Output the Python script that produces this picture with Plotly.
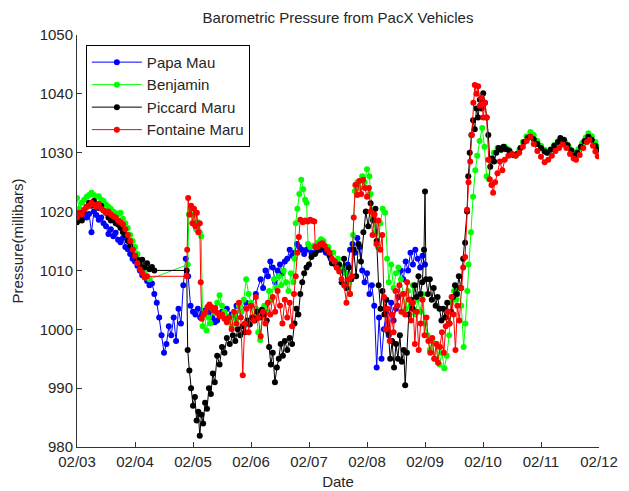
import pandas as pd
import plotly.graph_objects as go

START = pd.Timestamp("2011-02-03")

# Hours since 02/03 00:00 and pressure readings (mbar) for each vehicle
papa_hours = [0, 1, 2, 3, 4, 5, 6, 7, 8, 9, 10, 11, 12, 13, 14, 15, 16, 17, 18, 19,
              20, 21, 22, 23, 24, 25, 26, 27, 28, 29, 30, 31, 32, 33, 34, 35, 36, 37, 38, 39,
              40, 41, 42, 43, 44, 45, 46, 47, 48, 49, 50, 51, 52, 53, 54, 55, 56, 57, 58, 59,
              60, 62, 64, 66, 68, 70, 72, 74, 76, 77, 78, 79, 80, 81, 82, 83, 84, 85, 86, 87,
              88, 89, 90, 91, 92, 93, 94, 95, 96, 97, 99, 101, 103, 105, 107, 109, 111, 112, 113, 114,
              115, 116, 117, 118, 119, 120, 121, 122, 123, 124, 125, 126, 127, 128, 129, 130, 131, 132, 133, 134,
              135, 136, 137, 138, 139, 140, 141, 142, 143, 144]
papa_mb = [1018.5, 1019.2, 1018.8, 1019.5, 1019.0, 1019.6, 1016.5, 1020.0, 1019.4, 1018.6,
           1019.0, 1018.0, 1017.5, 1016.2, 1017.0, 1015.8, 1016.4, 1015.2, 1014.8, 1015.5,
           1014.0, 1013.6, 1012.8, 1012.0, 1011.5, 1010.8, 1010.0, 1009.2, 1009.0, 1008.2,
           1007.5, 1007.8, 1006.0, 1004.5, 1002.0, 999.0, 996.0, 997.5, 1000.5, 999.0,
           1002.0, 998.0, 1003.5, 1001.0, 1007.5, 1012.0, 1009.0, 1004.0, 1003.0, 1002.5,
           1003.5, 1002.0, 1002.8, 1003.2, 1002.5, 1003.0, 1002.0, 1001.2, 1001.5, 1002.5,
           1003.0, 1003.5, 1002.5, 1004.0, 1003.0, 1004.5, 1004.0, 1006.0, 1008.5, 1007.0,
           1010.0, 1009.0, 1011.5, 1010.5, 1008.0, 1010.0, 1011.0, 1009.5, 1011.5, 1012.0,
           1013.5, 1012.5, 1013.0, 1014.5, 1014.0, 1013.5, 1012.8, 1013.5, 1014.0, 1013.0,
           1013.2, 1013.5, 1013.0, 1012.0, 1011.0, 1010.0, 1009.5, 1011.0, 1013.5, 1014.5,
           1013.0, 1015.5, 1014.0, 1010.0, 1008.0, 1009.5, 1006.0, 1007.5, 1004.0, 993.5,
           1002.0, 995.0, 1000.0, 1003.0, 999.0, 1004.5, 1001.5, 1003.5, 1005.5, 1010.0,
           1008.5, 1011.5, 1010.0, 1013.0, 1011.0, 1013.5, 1012.0, 1010.5, 1012.5, 1011.0]

benjamin_hours = [0, 1, 2, 3, 4, 5, 6, 7, 8, 9, 10, 11, 12, 13, 14, 15, 16, 17, 18, 19,
                  20, 21, 22, 23, 24, 25, 26, 27, 28, 29, 30, 45.8, 46.3, 47.0, 47.8, 48.5, 49.3, 50.0, 50.8, 51.4,
                  52.0, 52.8, 53.6, 54.4, 55.2, 56.0, 57.0, 58.0, 59.0, 60.0, 61.0, 62.0, 63.0, 64.0, 65.0, 66.0, 67.0, 68.0, 69.0, 70.0,
                  71.0, 72.0, 73.0, 74.0, 75.0, 75.8, 76.5, 77.5, 78.5, 79.5, 80.5, 81.5, 82.5, 83.5, 84.5, 85.5, 86.5, 87.5, 88.5, 89.5,
                  90.0, 90.5, 91.2, 92.0, 92.8, 93.6, 94.4, 95.0, 95.6, 96.5, 98, 100, 101, 102, 104, 106, 108, 110, 111, 112,
                  113, 114.2, 115, 116, 117, 118, 119, 120, 121, 121.5, 122.5, 123.5, 124.5, 125.5, 126.5, 127.5, 128.3, 129, 130, 131,
                  132, 133, 134, 135, 136, 137, 138, 139, 140, 141, 142, 143, 144, 145, 146, 147, 148, 149, 150, 151,
                  152, 153, 154, 155, 156, 157, 158, 159, 160, 160.7, 161.5, 162, 163, 163.9, 164.8, 165.6, 166.6, 167.7, 168.6, 169.5,
                  170.5, 171.5, 172.5, 174.0, 175.5, 177.0, 178.5, 180.0, 181.5, 183.0, 184.5, 186.0, 187.6, 189.0, 190.5, 192.0, 193.5, 194.6, 196.0, 197.5,
                  199.0, 200.8, 202.0, 203.5, 205.0, 206.2, 207.5, 209.0, 210.5, 211.6, 213.0, 214.5, 215.5]
benjamin_mb = [1022.3, 1020.5, 1021.5, 1022.0, 1022.5, 1022.8, 1023.2, 1022.8, 1022.5, 1022.6,
               1022.0, 1021.8, 1021.2, 1020.8, 1020.5, 1020.0, 1019.7, 1019.5, 1019.8, 1018.8,
               1018.0, 1017.2, 1016.0, 1015.0, 1014.0, 1012.8, 1011.8, 1010.5, 1009.5, 1008.8,
               1008.5, 1011.0, 1019.5, 1020.5, 1018.0, 1019.5, 1017.0, 1018.2, 1016.5, 1015.8,
               1000.5, 1002.5, 999.8, 1002.0, 1001.0, 1003.5, 1002.8, 1004.5, 1005.8, 1004.0,
               1003.0, 1002.2, 1001.5, 1000.5, 1002.5, 1001.8, 1004.0, 1003.0, 1005.0, 1008.5,
               1006.0, 1004.5, 1002.0, 1003.5, 999.5, 998.2, 1002.0, 1004.0, 1003.0, 1006.5,
               1005.0, 1008.5, 1007.0, 1009.0, 1007.5, 1010.0, 1008.0, 1006.5, 1009.5, 1008.0,
               1012.0, 1018.0, 1020.5, 1023.0, 1025.4, 1023.8, 1022.0, 1021.5, 1014.5, 1014.0,
               1014.2, 1014.8, 1015.3, 1015.0, 1014.0, 1013.0, 1012.0, 1010.5, 1009.5, 1008.0,
               1006.0, 1016.0, 1023.5, 1025.0, 1024.0, 1026.0, 1025.0, 1027.2, 1026.0, 1023.0,
               1019.0, 1016.5, 1014.0, 1018.0, 1020.5, 1019.8, 1012.0, 1008.0, 1011.0, 1007.0,
               1009.5, 1010.5, 1008.5, 1006.0, 1003.5, 1006.5, 1004.0, 1007.5, 1002.5, 1005.0,
               1003.0, 1006.0, 1001.0, 999.0, 996.5, 998.0, 995.0, 997.5, 994.0, 996.0,
               993.4, 995.5, 999.0, 1004.5, 1006.5, 1005.0, 1007.0, 1004.0, 997.0, 1001.0,
               1006.5, 1011.0, 1016.5, 1022.5, 1027.0, 1029.5, 1032.0, 1034.2, 1031.0, 1026.0,
               1025.5, 1029.0, 1030.0, 1030.8, 1030.5, 1031.0, 1030.6, 1029.8, 1029.5, 1030.5,
               1031.8, 1032.8, 1033.5, 1033.0, 1032.0, 1031.2, 1030.5, 1030.0, 1030.6, 1031.3,
               1031.9, 1032.2, 1031.8, 1031.0, 1030.3, 1030.0, 1030.6, 1031.6, 1032.6, 1033.3,
               1032.8, 1031.8, 1031.0]

piccard_hours = [0, 1, 2, 3, 4, 5, 6, 7, 8, 9, 10, 11, 12, 13, 14, 15, 16, 17, 18, 19,
                 20, 21, 22, 23, 24, 25, 26, 27, 28, 29, 30, 31, 32, 45.4, 45.8, 46.5, 47.2, 48.0, 48.8, 49.5,
                 50.2, 50.8, 51.5, 52.2, 53.0, 53.8, 54.6, 55.4, 56.2, 57.0, 58.0, 59.0, 60.0, 61.0, 62.0, 63.2, 64.5, 65.5, 66.5, 67.5,
                 68.5, 69.5, 70.5, 71.5, 72.5, 73.5, 74.5, 75.5, 76.5, 77.5, 78.5, 79.5, 80.2, 81.0, 81.9, 82.7, 83.5, 84.3, 85.2, 86.0,
                 87.0, 88.0, 89.0, 90.0, 90.8, 91.6, 92.4, 93.2, 94.0, 95.0, 96.0, 97.0, 98.5, 100.0, 101.5, 103.0, 104.5, 105.5, 106.5, 107.5,
                 108.5, 109.5, 110.5, 111.5, 112.5, 113.5, 114.5, 115.5, 116.5, 117.5, 118.5, 119.5, 120.5, 121.5, 122.5, 123.5, 124.0, 124.8, 125.6, 126.4,
                 127.2, 128.0, 128.8, 129.6, 130.4, 131.2, 132.0, 132.8, 133.6, 134.4, 135.2, 135.8, 136.5, 137.3, 138.1, 138.9, 139.7, 140.5, 141.3, 142.1,
                 142.9, 143.6, 144.0, 144.4, 145.2, 146.0, 146.8, 147.6, 148.4, 149.2, 150.0, 150.8, 151.6, 152.4, 153.2, 154.0, 154.8, 155.6, 156.4, 157.2,
                 158.0, 158.8, 159.8, 160.6, 161.4, 161.9, 162.5, 163.2, 163.9, 164.6, 165.3, 166.0, 166.7, 167.4, 168.1, 168.8, 169.5, 170.2, 171.0, 171.8,
                 172.6, 173.5, 174.5, 175.5, 176.5, 177.5, 179.0, 180.5, 182.0, 183.5, 185.0, 186.5, 187.6, 189.0, 190.5, 192.0, 193.5, 194.6, 196.0, 197.5,
                 199.0, 200.0, 201.5, 203.0, 204.5, 205.8, 207.0, 208.5, 210.0, 211.6, 213.0, 214.5, 215.5]
piccard_mb = [1018.2, 1019.0, 1018.5, 1020.2, 1020.8, 1021.5, 1021.0, 1021.8, 1021.2, 1020.6,
              1021.0, 1020.2, 1019.8, 1019.0, 1018.5, 1018.8, 1018.0, 1017.8, 1017.2, 1016.5,
              1016.0, 1015.0, 1014.2, 1013.5, 1012.5, 1011.8, 1011.0, 1011.8, 1010.5, 1011.2,
              1010.2, 1010.6, 1010.0, 1010.0, 996.5, 993.0, 990.0, 987.0, 988.5, 984.5,
              986.0, 981.9, 985.5, 984.0, 987.5, 986.5, 990.0, 989.0, 992.5, 991.0,
              995.5, 994.0, 997.0, 996.0, 998.5, 997.5, 999.0, 998.0, 1000.0, 999.0,
              1000.5, 999.5, 1001.5, 1000.8, 1002.0, 1001.5, 1003.0, 1002.0, 1003.3, 1002.5,
              1001.5, 997.0, 994.0, 996.0, 991.0, 993.5, 995.0, 997.5, 995.5, 998.0,
              996.5, 998.5, 997.5, 1001.0, 1003.5, 1002.5, 1006.0, 1008.0, 1009.5, 1010.5,
              1011.0, 1012.3, 1012.8, 1013.5, 1014.0, 1013.5, 1012.5, 1011.2, 1011.5, 1010.5,
              1011.0, 1008.0, 1012.0, 1007.0, 1010.5, 1008.5, 1013.5, 1009.0, 1014.5, 1011.5,
              1016.5, 1020.0, 1017.5, 1021.4, 1018.5, 1020.5, 1015.0, 1007.5, 1003.5, 1006.5,
              1002.5, 1005.0, 999.5, 995.0, 998.0, 993.5, 997.5, 995.0, 999.0, 994.5,
              996.5, 990.5, 996.0, 1002.5, 1005.0, 1003.5, 1007.5, 1005.5, 1009.0, 1006.0,
              1008.0, 1013.5, 1023.4, 1008.5, 1006.0, 1008.5, 1005.0, 1007.0, 1004.0, 1005.5,
              1003.5, 1001.5, 1003.5, 1002.0, 1004.5, 1001.0, 1003.0, 1005.5, 1007.5, 1006.0,
              1009.0, 1007.0, 1012.0, 1014.7, 1020.0, 1026.0, 1030.0, 1033.0, 1035.5, 1034.0,
              1037.5, 1036.0, 1039.0, 1037.5, 1040.1, 1038.5, 1036.0, 1033.0, 1027.6, 1029.0,
              1028.5, 1030.0, 1030.8, 1030.5, 1031.0, 1030.6, 1030.3, 1029.6, 1029.8, 1030.8,
              1031.8, 1032.5, 1032.7, 1032.3, 1031.5, 1030.8, 1030.2, 1030.0, 1030.5, 1031.2,
              1031.8, 1032.5, 1032.2, 1031.3, 1030.4, 1029.5, 1030.0, 1031.0, 1032.0, 1032.7,
              1032.2, 1031.2, 1030.5]

fontaine_hours = [0, 1, 2, 3, 4, 5, 6, 7, 8, 9, 10, 11, 12, 13, 14, 15, 16, 17, 18, 19,
                  20, 21, 22, 23, 24, 25, 26, 27, 28, 29, 45.4, 45.6, 46.0, 46.6, 47.2, 47.8, 48.4, 49.0, 49.6, 50.2,
                  50.8, 51.2, 51.6, 52.4, 53.2, 54.0, 54.8, 55.6, 56.4, 57.2, 58.0, 59.0, 60.0, 61.0, 62.0, 63.0, 64.0, 65.0, 66.0, 67.0,
                  67.8, 68.6, 69.4, 70.2, 71.0, 72.0, 73.0, 74.0, 75.0, 76.0, 77.0, 78.0, 79.0, 80.0, 81.0, 82.0, 83.0, 84.0, 85.0, 86.0,
                  87.0, 88.0, 89.0, 89.8, 90.5, 91.2, 91.8, 92.4, 93.5, 94.5, 95.5, 96.5, 97.5, 98.2, 98.6, 99.5, 100.5, 101.5, 102.5, 103.5,
                  104.5, 105.5, 106.5, 107.5, 108.5, 109.5, 110.5, 111.5, 112.2, 113.0, 113.8, 114.5, 115.2, 116.0, 116.8, 117.6, 118.4, 119.2, 120.0, 120.8,
                  121.5, 122.3, 123.1, 123.9, 124.7, 125.5, 126.3, 127.0, 127.8, 128.6, 129.4, 130.2, 131.0, 131.8, 132.6, 133.4, 134.2, 135.0, 135.8, 136.6,
                  137.4, 138.2, 139.0, 139.8, 140.6, 141.4, 142.2, 143.0, 143.8, 144.6, 145.4, 146.2, 147.0, 147.8, 148.6, 149.4, 150.2, 151.0, 151.8, 152.6,
                  153.4, 154.2, 155.0, 155.8, 156.6, 157.4, 158.2, 159.0, 159.8, 160.6, 161.4, 162.0, 162.7, 163.4, 164.0, 164.6, 165.3, 166.0, 166.7, 167.4,
                  168.1, 168.8, 169.5, 170.2, 170.8, 171.5, 172.2, 173.0, 174.0, 175.0, 176.0, 177.0, 178.5, 180.0, 181.5, 183.0, 184.5, 186.0, 187.6, 189.0,
                  190.5, 192.0, 193.5, 195.0, 196.5, 198.0, 199.5, 201.0, 202.5, 204.0, 205.5, 206.5, 208.0, 209.5, 211.0, 212.0, 213.5, 214.5, 215.5]
fontaine_mb = [1019.0, 1019.8, 1019.5, 1020.3, 1020.8, 1021.0, 1021.5, 1021.2, 1020.8, 1021.3,
               1020.5, 1020.2, 1019.8, 1020.0, 1019.5, 1019.2, 1019.0, 1018.5, 1018.2, 1017.8,
               1017.0, 1016.0, 1015.0, 1013.5, 1012.5, 1011.2, 1010.2, 1009.5, 1008.8, 1009.0,
               1009.0, 1013.5, 1022.3, 1019.5, 1021.0, 1018.0, 1020.5, 1017.5, 1019.8, 1016.5,
               1018.0, 1008.0, 1001.8, 1002.5, 1003.0, 1003.8, 1004.2, 1003.8, 1003.2, 1003.6,
               1002.8, 1002.2, 1002.5, 1001.8, 1001.2, 1002.0, 1000.0, 1003.0, 1001.0, 1004.5,
               1002.0, 992.2, 1001.0, 1003.5, 999.5, 1004.0, 1001.5, 1005.5, 1002.0, 998.8,
               1003.0, 1001.0, 1004.5, 1002.5, 1005.5, 1003.0, 1006.5, 1004.0, 1001.0, 1005.0,
               1002.0, 1004.5, 1000.5, 1006.0, 1009.0, 1013.0, 1015.7, 1018.6, 1018.2, 1018.5,
               1018.3, 1018.6, 1018.4, 1018.3, 1014.0, 1014.0, 1014.4, 1014.6, 1014.2, 1013.5,
               1013.0, 1012.0, 1011.5, 1010.5, 1009.8, 1008.5, 1007.5, 1004.5, 1008.5, 1006.0,
               1009.0, 1019.0, 1024.5, 1022.8, 1025.2, 1023.0, 1025.4, 1024.0, 1022.5, 1024.0,
               1020.0, 1016.0, 1019.5, 1014.5, 1018.5, 1013.5, 1016.0, 1005.5, 1000.0, 1003.5,
               998.0, 1002.5, 999.5, 1006.5, 1004.0, 1007.5, 1003.0, 1006.0, 1002.5, 1008.0,
               1005.0, 1001.5, 1004.5, 997.5, 1003.0, 996.5, 1001.0, 1005.0, 999.0, 1002.0,
               998.0, 996.0, 998.5, 995.0, 997.5, 994.3, 997.0, 999.5, 996.0, 1000.5,
               1003.0, 1001.0, 1005.5, 1002.5, 996.5, 1004.0, 1001.5, 1007.0, 1010.5, 1012.3,
               1020.3, 1025.0, 1028.5, 1033.0, 1038.5, 1041.5, 1040.0, 1041.3, 1038.0, 1039.4,
               1036.0, 1038.5, 1036.0, 1028.8, 1025.5, 1024.5, 1023.2, 1025.0, 1026.5, 1028.5,
               1027.0, 1028.8, 1029.5, 1029.8, 1029.5, 1030.0, 1031.0, 1032.0, 1032.7, 1031.5,
               1030.3, 1029.3, 1028.4, 1028.8, 1029.5, 1030.3, 1030.8, 1031.4, 1030.8, 1029.8,
               1029.0, 1028.8, 1029.6, 1030.8, 1031.8, 1032.2, 1031.2, 1030.2, 1029.4]

series_names = ["Papa Mau", "Benjamin", "Piccard Maru", "Fontaine Maru"]
series_hours = [papa_hours, benjamin_hours, piccard_hours, fontaine_hours]
series_values = [papa_mb, benjamin_mb, piccard_mb, fontaine_mb]
series_colors = ["#0000ff", "#00ff00", "#000000", "#ff0000"]

y_ticks = [980, 990, 1000, 1010, 1020, 1030, 1040, 1050]

TEXT = "#262626"
FONT = "Liberation Sans, Arial, sans-serif"

fig = go.Figure()
for name, hrs, vals, color in zip(series_names, series_hours, series_values, series_colors):
    times = START + pd.to_timedelta(hrs, unit="h")
    fig.add_trace(go.Scatter(
        x=times, y=vals, mode="lines+markers", name=name, legendgroup=name,
        line=dict(color=color, width=1),
        marker=dict(color=color, size=6),
    ))

fig.update_layout(
    width=629, height=491,
    margin=dict(l=77, r=30, t=35, b=44),
    paper_bgcolor="white", plot_bgcolor="white",
    font=dict(family=FONT, size=15, color=TEXT),
    title=dict(text="Barometric Pressure from PacX Vehicles", x=0.5, xref="paper",
               y=1 - 18 / 491, yref="container", yanchor="middle",
               font=dict(family=FONT, size=15, color=TEXT)),
    showlegend=True,
    legend=dict(x=0.017, y=0.976, xanchor="left", yanchor="top",
                bgcolor="white", bordercolor="black", borderwidth=1,
                font=dict(family=FONT, size=15, color=TEXT),
                traceorder="grouped", tracegroupgap=0, itemwidth=50),
)

fig.update_xaxes(
    type="date",
    range=[START, START + pd.Timedelta(days=9)],
    dtick=86400000, tick0=START, tickformat="%m/%d",
    ticks="inside", ticklen=5, tickcolor="#333333",
    ticklabelstandoff=1,
    showline=True, linecolor="#333333", linewidth=1,
    showgrid=False, zeroline=False, automargin=False,
    title=dict(text="Date", standoff=7, font=dict(size=15)),
)
fig.update_yaxes(
    range=[980, 1050], tickvals=y_ticks,
    ticks="inside", ticklen=5, tickcolor="#333333",
    showline=True, linecolor="#333333", linewidth=1,
    showgrid=False, zeroline=False, automargin=False,
    title=dict(text="Pressure(millibars)", standoff=12, font=dict(size=15)),
)

fig.write_html("out.html")
